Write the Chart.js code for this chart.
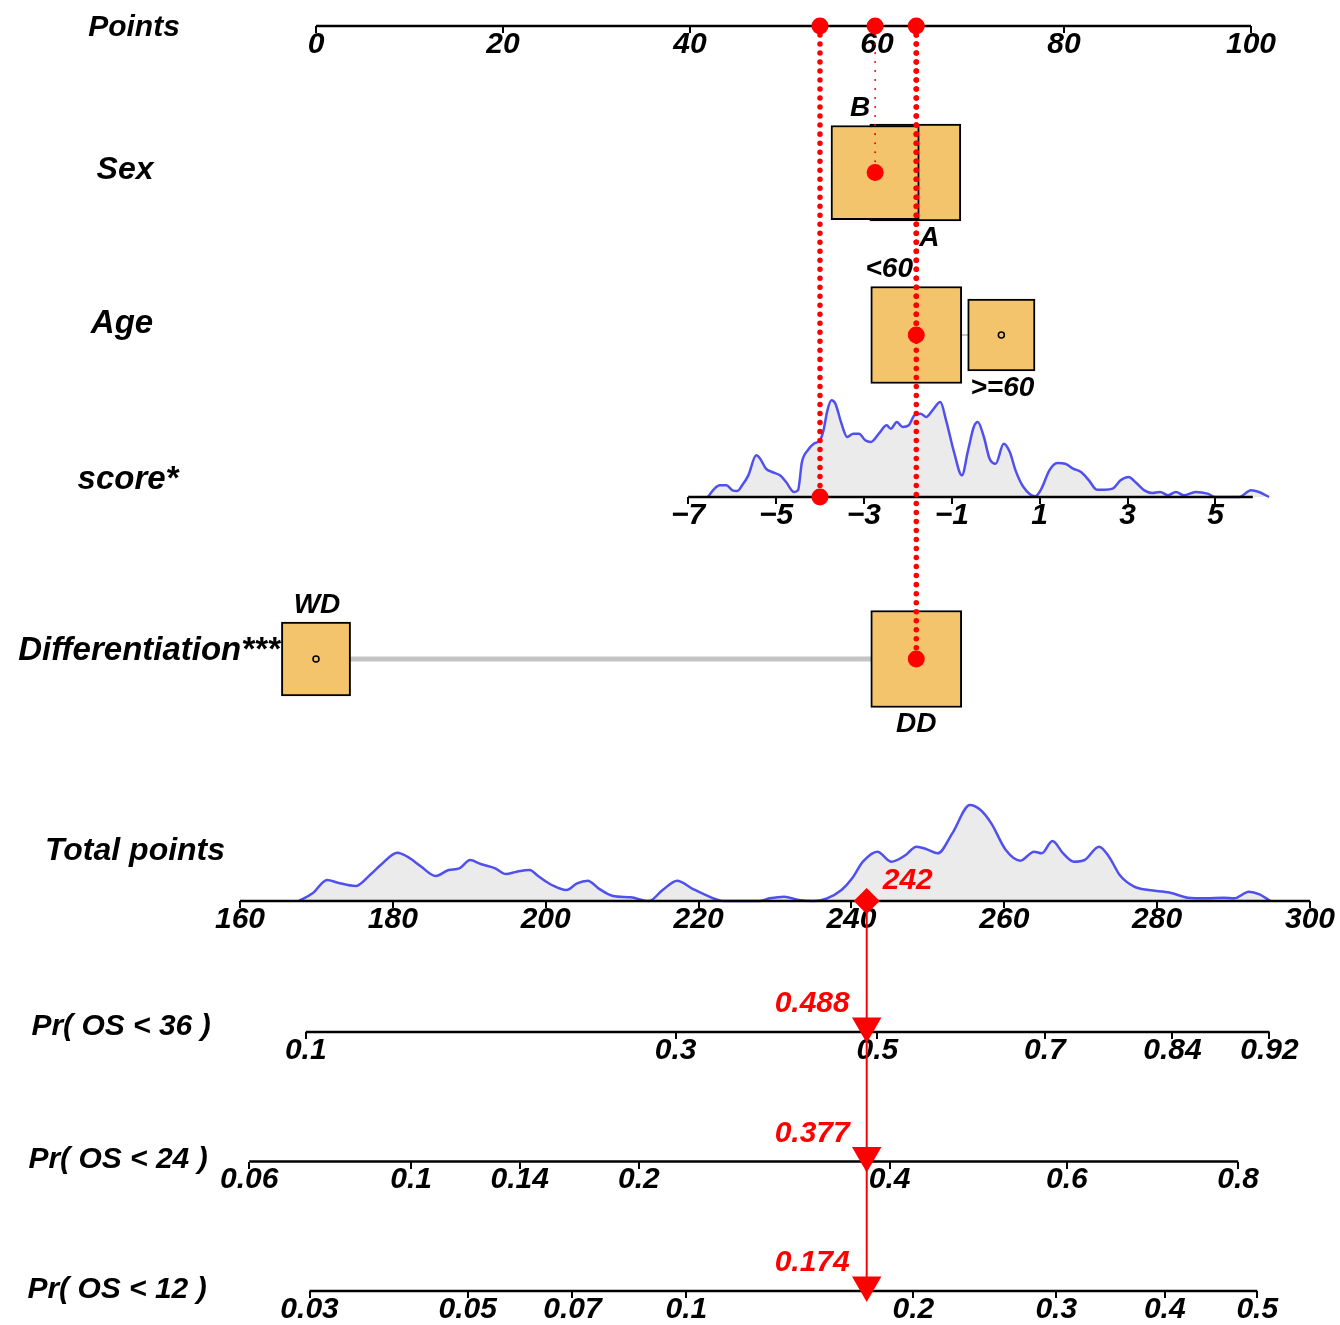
<!DOCTYPE html>
<html>
<head>
<meta charset="utf-8">
<script src="https://cdn.jsdelivr.net/npm/chart.js@4.4.1/dist/chart.umd.min.js"></script>
<style>
  html, body { margin: 0; padding: 0; background: #ffffff; }
  #wrap { width: 1340px; height: 1325px; }
</style>
</head>
<body>
<div id="wrap"><canvas id="c" width="1340" height="1325"></canvas></div>
<script>
// ================= DATA =================
const pointsTicks = [0, 20, 40, 60, 80, 100];

const sexCategories = ['B', 'A'];
const sexPoints = [59.8, 64.1];
const sexBoxSize = [0.97, 1.0];

const ageCategories = ['<60', '>=60'];
const agePoints = [64.2, 73.3];
const ageBoxSize = [1.0, 0.74];

const diffCategories = ['WD', 'DD'];
const diffPoints = [0, 64.2];
const diffBoxSize = [0.76, 1.0];

// score: points = scorePointsAtZero + scorePointsPerUnit * score
const scorePointsAtZero = 72.7;
const scorePointsPerUnit = 4.70;
const scoreTicks = [-7, -5, -3, -1, 1, 3, 5];
const scoreAxisRange = [-7, 5.85];
const scoreDensX = [-6.55,-6.40,-6.28,-6.13,-5.99,-5.88,-5.77,-5.63,-5.45,-5.36,-5.23,-5.09,-4.91,-4.77,-4.59,-4.50,-4.41,-4.28,-4.14,-4.00,-3.92,-3.83,-3.74,-3.65,-3.51,-3.38,-3.24,-3.11,-2.97,-2.84,-2.66,-2.48,-2.39,-2.25,-2.12,-1.98,-1.85,-1.71,-1.58,-1.44,-1.26,-1.13,-0.95,-0.77,-0.63,-0.50,-0.41,-0.27,-0.14,0.00,0.18,0.32,0.45,0.63,0.90,1.04,1.22,1.40,1.58,1.76,1.94,2.12,2.30,2.48,2.66,2.84,3.02,3.20,3.38,3.56,3.74,3.92,4.10,4.28,4.55,4.82,5.00,5.54,5.81,5.99,6.22];
const scoreDensY = [0,25,35,35,20,18,35,65,125,115,85,75,65,45,15,20,105,140,160,170,200,260,290,280,220,180,190,190,170,165,190,215,205,225,210,215,245,250,240,260,285,230,135,65,140,210,225,180,115,100,160,135,80,30,2,25,80,102,100,85,75,50,22,22,25,50,60,42,20,12,15,5,15,5,15,10,0,0,20,15,0];

const totalTicks = [160, 180, 200, 220, 240, 260, 280, 300];
const totalDensX = [167.7,169.5,171.4,172.8,175.1,177.0,178.4,180.6,181.9,183.6,185.6,187.3,188.7,190.1,191.5,193.4,194.8,196.2,197.9,199.0,200.8,202.7,204.1,205.5,206.9,208.8,211.1,213.5,215.3,217.2,219.1,221.4,223.3,227.9,229.3,231.2,233.1,235.0,236.8,238.7,240.1,241.5,243.4,245.2,247.1,248.5,249.9,251.3,253.2,255.5,256.9,258.3,260.2,262.1,263.9,264.9,266.3,267.7,269.1,270.5,272.4,273.7,275.1,277.0,278.9,281.7,284.0,286.4,288.7,290.1,292.0,293.4,294.8];
const totalDensY = [0,23,63,55,45,78,108,145,133,105,75,93,98,123,111,98,81,88,93,75,48,33,53,61,38,15,11,0,33,61,38,13,0,0,8,13,3,0,8,33,68,118,148,118,138,163,155,143,203,288,273,233,153,121,148,143,180,143,118,123,163,133,78,43,33,25,10,8,10,8,28,20,0];

// probability axes: tick labels and the total-points value where each sits
const pr36Labels = ['0.1', '0.3', '0.5', '0.7', '0.84', '0.92'];
const pr36At     = [168.6, 217.0, 243.4, 265.3, 282.0, 294.7];
const pr24Labels = ['0.06', '0.1', '0.14', '0.2', '0.4', '0.6', '0.8'];
const pr24At     = [161.2, 182.4, 196.6, 212.2, 245.0, 268.2, 290.6];
const pr12Labels = ['0.03', '0.05', '0.07', '0.1', '0.2', '0.3', '0.4', '0.5'];
const pr12At     = [169.1, 189.8, 203.5, 218.4, 248.1, 266.8, 281.0, 293.1];

// the plotted observation
const obsSex = 'B';
const obsAge = '<60';
const obsScore = -4;
const obsDiff = 'DD';
const totalObs = 242;
const probObs = [0.488, 0.377, 0.174];

const nameLabels = ['Points', 'Sex', 'Age', 'score*', 'Differentiation***', 'Total points', 'Pr( OS < 36 )', 'Pr( OS < 24 )', 'Pr( OS < 12 )'];

// ================= LAYOUT / STYLE =================
const W = 1340, H = 1325;
const PTS_PX0 = 316, PTS_PX100 = 1251;
const TOT_PX_FIRST = 240, TOT_PX_LAST = 1310;
const ROW = { points: 26, sex: 172.5, age: 335, score: 497, diff: 659, total: 901, pr36: 1032, pr24: 1161.5, pr12: 1291 };
const PR_ROWS = [ROW.pr36, ROW.pr24, ROW.pr12];
const NAME_X = [134, 125, 122, 128, 149, 135, 121, 118, 117];
const NAME_Y = [28, 170, 324, 480, 651, 851, 1027, 1160, 1290];
const NAME_SIZE = [30, 32, 33, 33, 33, 32, 30, 30, 30];
const CAT_DX = [[-15, 14], [-27, 1], [1, 0]];
const CAT_GAP = 17;
const BOX_W = 91, BOX_H = 97;
const DENS_PX = 1 / 3;
const FONT = '"Liberation Sans", Arial, Helvetica, sans-serif';

function fontAvailable(name) {
  const c = document.createElement('canvas').getContext('2d');
  const s = 'mmmmmmmmmmlli0.84WQ';
  c.font = '72px monospace';
  const a = c.measureText(s).width;
  c.font = '72px "' + name + '", monospace';
  const b = c.measureText(s).width;
  return Math.abs(a - b) > 0.5;
}
const HAS_NARROW = fontAvailable('Liberation Sans Narrow');
const TICK_FONT = HAS_NARROW ? '"Liberation Sans Narrow", ' + FONT : FONT;
const TICK_SIZE = HAS_NARROW ? 33 : 30;
const TICK_LABEL_OFFSET = 18.5;   // tick label centre below axis line
const TICK_LEN = 7;
const CAT_SIZE = 28, RED_SIZE = 30;
const BOX_FILL = '#F3C46B';
const DENS_LINE = '#5050F0';
const DENS_FILL = '#EBEBEB';
const GREY_LINE = '#C4C4C4';
const RED = '#FF0000';

// ================= SCALES =================
const ppp = (PTS_PX100 - PTS_PX0) / (pointsTicks[pointsTicks.length - 1] - pointsTicks[0]);
const ptsMin = -PTS_PX0 / ppp, ptsMax = (W - PTS_PX0) / ppp;
const tpp = (TOT_PX_LAST - TOT_PX_FIRST) / (totalTicks[totalTicks.length - 1] - totalTicks[0]);
const totMin = totalTicks[0] - TOT_PX_FIRST / tpp, totMax = totalTicks[0] + (W - TOT_PX_FIRST) / tpp;
const scMin = (ptsMin - scorePointsAtZero) / scorePointsPerUnit;
const scMax = (ptsMax - scorePointsAtZero) / scorePointsPerUnit;

const fmtNum = v => (v < 0 ? '\u2212' + Math.abs(v) : String(v));

function axis(rowY, min, max, tickVals, labels) {
  return {
    type: 'linear', position: { y: rowY }, min, max, offset: false, beginAtZero: false,
    afterBuildTicks: s => { s.ticks = tickVals.map(v => ({ value: v })); },
    ticks: {
      autoSkip: false, maxRotation: 0, minRotation: 0,
      padding: TICK_LABEL_OFFSET - TICK_LEN - TICK_SIZE / 2, color: '#000',
      font: { family: TICK_FONT, size: TICK_SIZE, style: 'italic', weight: 'bold', lineHeight: 1 },
      callback: (v, i) => (labels ? labels[i] : fmtNum(v))
    },
    grid: { display: true, drawOnChartArea: false, drawTicks: true, tickLength: TICK_LEN, color: '#000', tickColor: '#000', lineWidth: 2, tickWidth: 2 },
    border: { display: false }
  };
}
function densScale(rowY) {
  const span = H / DENS_PX;
  const max = rowY / DENS_PX;
  return { type: 'linear', display: false, min: max - span, max: max, offset: false, beginAtZero: false };
}

// ================= DATASETS =================
const ds = [];
const line = (xAxisID, pts, color, width, order, extra) =>
  Object.assign({ type: 'line', xAxisID, yAxisID: 'y', data: pts, borderColor: color, borderWidth: width,
    pointRadius: 0, fill: false, order }, extra || {});

// densities
ds.push({ type: 'line', xAxisID: 'xScore', yAxisID: 'yScoreDens',
  data: scoreDensX.map((x, i) => ({ x, y: scoreDensY[i] })),
  borderColor: DENS_LINE, borderWidth: 2.5, backgroundColor: DENS_FILL, fill: 'origin',
  pointRadius: 0, cubicInterpolationMode: 'monotone', order: 60 });
ds.push({ type: 'line', xAxisID: 'xTotal', yAxisID: 'yTotalDens',
  data: totalDensX.map((x, i) => ({ x, y: totalDensY[i] })),
  borderColor: DENS_LINE, borderWidth: 2.5, backgroundColor: DENS_FILL, fill: 'origin',
  pointRadius: 0, cubicInterpolationMode: 'monotone', order: 60 });

// axis lines
ds.push(line('x', [{ x: pointsTicks[0], y: ROW.points }, { x: pointsTicks[pointsTicks.length - 1], y: ROW.points }], '#000', 2.5, 40));
ds.push(line('xScore', [{ x: scoreAxisRange[0], y: ROW.score }, { x: scoreAxisRange[1], y: ROW.score }], '#000', 2.5, 40));
ds.push(line('xTotal', [{ x: totalTicks[0], y: ROW.total }, { x: totalTicks[totalTicks.length - 1], y: ROW.total }], '#000', 2.5, 40));
[[pr36At, ROW.pr36], [pr24At, ROW.pr24], [pr12At, ROW.pr12]].forEach(([at, r]) =>
  ds.push(line('xTotal', [{ x: at[0], y: r }, { x: at[at.length - 1], y: r }], '#000', 2.5, 40)));

// grey connector lines for categorical variables
ds.push(line('x', [{ x: Math.min(...agePoints), y: ROW.age }, { x: Math.max(...agePoints), y: ROW.age }], GREY_LINE, 2, 45));
ds.push(line('x', [{ x: Math.min(...diffPoints), y: ROW.diff }, { x: Math.max(...diffPoints), y: ROW.diff }], GREY_LINE, 5, 45));

// boxes
const catRows = [
  { names: sexCategories, pts: sexPoints, rel: sexBoxSize, row: ROW.sex, obs: obsSex },
  { names: ageCategories, pts: agePoints, rel: ageBoxSize, row: ROW.age, obs: obsAge },
  { names: diffCategories, pts: diffPoints, rel: diffBoxSize, row: ROW.diff, obs: obsDiff }
];
catRows.forEach(cr => cr.names.forEach((n, i) => {
  const half = cr.rel[i] * BOX_W / 2 / ppp;
  ds.push({ type: 'bar', indexAxis: 'y', xAxisID: 'x', yAxisID: 'y',
    data: [{ x: [cr.pts[i] - half, cr.pts[i] + half], y: cr.row }],
    barThickness: cr.rel[i] * BOX_H, grouped: false,
    backgroundColor: BOX_FILL, borderColor: '#000', borderWidth: 2, borderSkipped: false,
    order: n === obsSex ? 30 : 32 });
}));

// small hollow circles at non-selected categories
const hollow = [];
catRows.forEach(cr => cr.names.forEach((n, i) => { if (n !== cr.obs) hollow.push({ x: cr.pts[i], y: cr.row }); }));
ds.push({ type: 'scatter', xAxisID: 'x', yAxisID: 'y', data: hollow, pointStyle: 'circle', pointRadius: 3,
  pointBorderColor: '#000', pointBorderWidth: 1.5, pointBackgroundColor: 'rgba(0,0,0,0)', order: 31 });

// observation: points per variable
const sexObsPts = sexPoints[sexCategories.indexOf(obsSex)];
const ageObsPts = agePoints[ageCategories.indexOf(obsAge)];
const diffObsPts = diffPoints[diffCategories.indexOf(obsDiff)];
const scoreObsPts = scorePointsAtZero + scorePointsPerUnit * obsScore;

// dotted red guide lines
const dotted = (axisId, xv, y1, width) => line(axisId, [{ x: xv, y: ROW.points }, { x: xv, y: y1 }], RED, width, 20,
  { borderDash: [0.01, 9], borderCapStyle: 'round' });
ds.push(dotted('xScore', obsScore, ROW.score, 5.5));
ds.push(dotted('x', sexObsPts, ROW.sex, 2));
ds.push(dotted('x', ageObsPts, ROW.age, 5.5));
ds.push(dotted('x', diffObsPts, ROW.diff, 5.5));

// red dots
ds.push({ type: 'scatter', xAxisID: 'x', yAxisID: 'y',
  data: [{ x: scoreObsPts, y: ROW.points }, { x: sexObsPts, y: ROW.points }, { x: ageObsPts, y: ROW.points },
         { x: sexObsPts, y: ROW.sex }, { x: ageObsPts, y: ROW.age }, { x: diffObsPts, y: ROW.diff }],
  pointStyle: 'circle', pointRadius: 8.5, pointBackgroundColor: RED, pointBorderWidth: 0, order: 10 });
ds.push({ type: 'scatter', xAxisID: 'xScore', yAxisID: 'y', data: [{ x: obsScore, y: ROW.score }],
  pointStyle: 'circle', pointRadius: 8.5, pointBackgroundColor: RED, pointBorderWidth: 0, order: 10 });

// total points -> probabilities
ds.push(line('xTotal', [{ x: totalObs, y: ROW.total }, { x: totalObs, y: ROW.pr12 }], RED, 2, 15));
ds.push({ type: 'scatter', xAxisID: 'xTotal', yAxisID: 'y', data: [{ x: totalObs, y: ROW.total }],
  pointStyle: 'rectRot', pointRadius: 13, pointBackgroundColor: RED, pointBorderWidth: 0, order: 12 });
ds.push({ type: 'scatter', xAxisID: 'xTotal', yAxisID: 'y', data: PR_ROWS.map(r => ({ x: totalObs, y: r - 6 })),
  pointStyle: 'triangle', pointRotation: 180, pointRadius: 17, pointBackgroundColor: RED, pointBorderWidth: 0, order: 12 });

// ================= TEXT =================
const textPlugin = {
  id: 'nomogramText',
  afterDraw(chart) {
    const { ctx, scales } = chart;
    const py = v => scales.y.getPixelForValue(v);
    const px = v => scales.x.getPixelForValue(v);
    const pt = v => scales.xTotal.getPixelForValue(v);
    ctx.save();
    ctx.textAlign = 'center';
    ctx.textBaseline = 'middle';
    ctx.fillStyle = '#000';
    nameLabels.forEach((t, i) => {
      ctx.font = `italic bold ${NAME_SIZE[i]}px ${FONT}`;
      ctx.fillText(t, NAME_X[i], py(NAME_Y[i]));
    });
    ctx.font = `italic bold ${CAT_SIZE}px ${FONT}`;
    catRows.forEach((cr, r) => cr.names.forEach((n, i) => {
      const dir = i === 0 ? -1 : 1;
      ctx.fillText(n, px(cr.pts[i]) + CAT_DX[r][i], py(cr.row + dir * (cr.rel[i] * BOX_H / 2 + CAT_GAP)));
    }));
    ctx.fillStyle = RED;
    ctx.font = `italic bold ${RED_SIZE}px ${FONT}`;
    ctx.textAlign = 'left';
    ctx.fillText(String(totalObs), pt(totalObs) + 16, py(ROW.total - 20));
    ctx.textAlign = 'right';
    probObs.forEach((p, i) => ctx.fillText(p.toFixed(3), pt(totalObs) - 17, py(PR_ROWS[i] - 28)));
    ctx.restore();
  }
};

new Chart(document.getElementById('c'), {
  type: 'scatter',
  data: { datasets: ds },
  options: {
    responsive: false, animation: false, devicePixelRatio: 1, events: [],
    layout: { padding: 0, autoPadding: false },
    plugins: { legend: { display: false }, tooltip: { enabled: false }, title: { display: false } },
    scales: {
      x: { type: 'linear', display: false, min: ptsMin, max: ptsMax, offset: false, beginAtZero: false },
      y: { type: 'linear', display: false, min: 0, max: H, reverse: true, offset: false, beginAtZero: false },
      yScoreDens: densScale(ROW.score),
      yTotalDens: densScale(ROW.total),
      xPoints: axis(ROW.points, ptsMin, ptsMax, pointsTicks, null),
      xScore: axis(ROW.score, scMin, scMax, scoreTicks, scoreTicks.map(fmtNum)),
      xTotal: axis(ROW.total, totMin, totMax, totalTicks, null),
      xPr36: axis(ROW.pr36, totMin, totMax, pr36At, pr36Labels),
      xPr24: axis(ROW.pr24, totMin, totMax, pr24At, pr24Labels),
      xPr12: axis(ROW.pr12, totMin, totMax, pr12At, pr12Labels)
    }
  },
  plugins: [textPlugin]
});
</script>
</body>
</html>
